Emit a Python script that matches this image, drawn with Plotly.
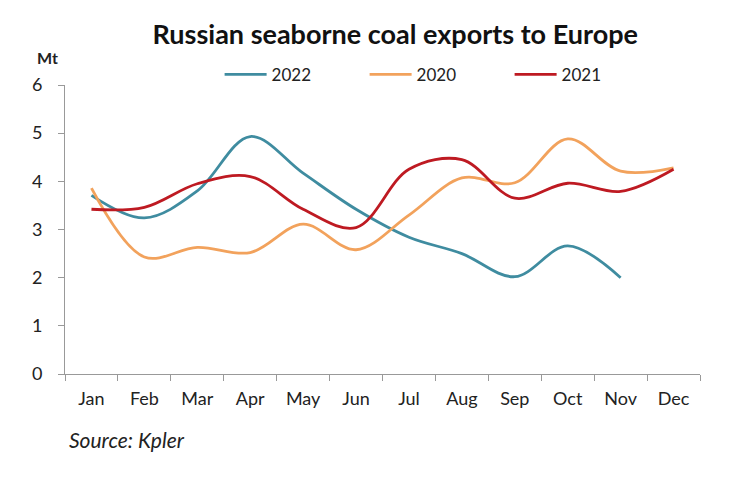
import plotly.graph_objects as go

months = ["Jan", "Feb", "Mar", "Apr", "May", "Jun", "Jul", "Aug", "Sep", "Oct", "Nov", "Dec"]
y2022 = [3.71, 3.24, 3.8, 4.93, 4.17, 3.42, 2.84, 2.5, 2.02, 2.66, 2.0]
y2020 = [3.86, 2.43, 2.63, 2.52, 3.11, 2.58, 3.3, 4.07, 3.97, 4.88, 4.21, 4.28]
y2021 = [3.42, 3.46, 3.95, 4.1, 3.42, 3.04, 4.25, 4.45, 3.65, 3.96, 3.79, 4.25]

series = [
    ("2022", y2022, "#3F8CA0"),
    ("2020", y2020, "#F2A25C"),
    ("2021", y2021, "#BE1A22"),
]

FONT = "Lato"
fig = go.Figure()
for name, vals, col in series:
    fig.add_trace(go.Scatter(
        x=months[:len(vals)], y=vals, name=name, mode="lines",
        line=dict(color=col, width=2.8, shape="spline", smoothing=1.0),
    ))

fig.update_layout(
    width=736, height=481,
    margin=dict(l=65, r=36, t=85, b=107),
    paper_bgcolor="white", plot_bgcolor="white",
    font=dict(family=FONT, size=17, color="#222"),
    title=dict(text="<b>Russian seaborne coal exports to Europe</b>",
               x=0.537, xanchor="center", y=0.928, yanchor="middle",
               font=dict(family=FONT, size=27, color="#111")),
    legend=dict(orientation="h", x=0.586, xanchor="center", y=1.035, yanchor="middle",
                font=dict(family=FONT, size=17, color="#222"),
                itemwidth=42, tracegroupgap=0, entrywidth=88),
    showlegend=True,
)
fig.update_xaxes(
    type="category", categoryorder="array", categoryarray=months,
    range=[-0.5, 11.5], showline=True, linecolor="#999", linewidth=1,
    ticks="outside", tickson="boundaries", ticklen=6, tickcolor="#999",
    showgrid=False, zeroline=False, ticklabelstandoff=8,
    tickfont=dict(size=18),
)
fig.update_yaxes(
    range=[0, 6], dtick=1, showline=True, linecolor="#999", linewidth=1,
    ticks="outside", ticklen=6, tickcolor="#999", showgrid=False, zeroline=False,
    ticklabelstandoff=12, tickfont=dict(size=18),
)
fig.add_annotation(text="<b>Mt</b>", xref="paper", yref="paper", x=-0.027, y=1.095,
                   xanchor="center", yanchor="middle", showarrow=False,
                   font=dict(family=FONT, size=16, color="#222"))
fig.add_annotation(text="<i>Source: Kpler</i>", xref="paper", yref="paper", x=0.003, y=-0.225,
                   xanchor="left", yanchor="middle", showarrow=False,
                   font=dict(family=FONT, size=21, color="#222"))

fig.write_html("out.html", config={"displayModeBar": False},
               post_script="document.body.style.margin='0px';")
